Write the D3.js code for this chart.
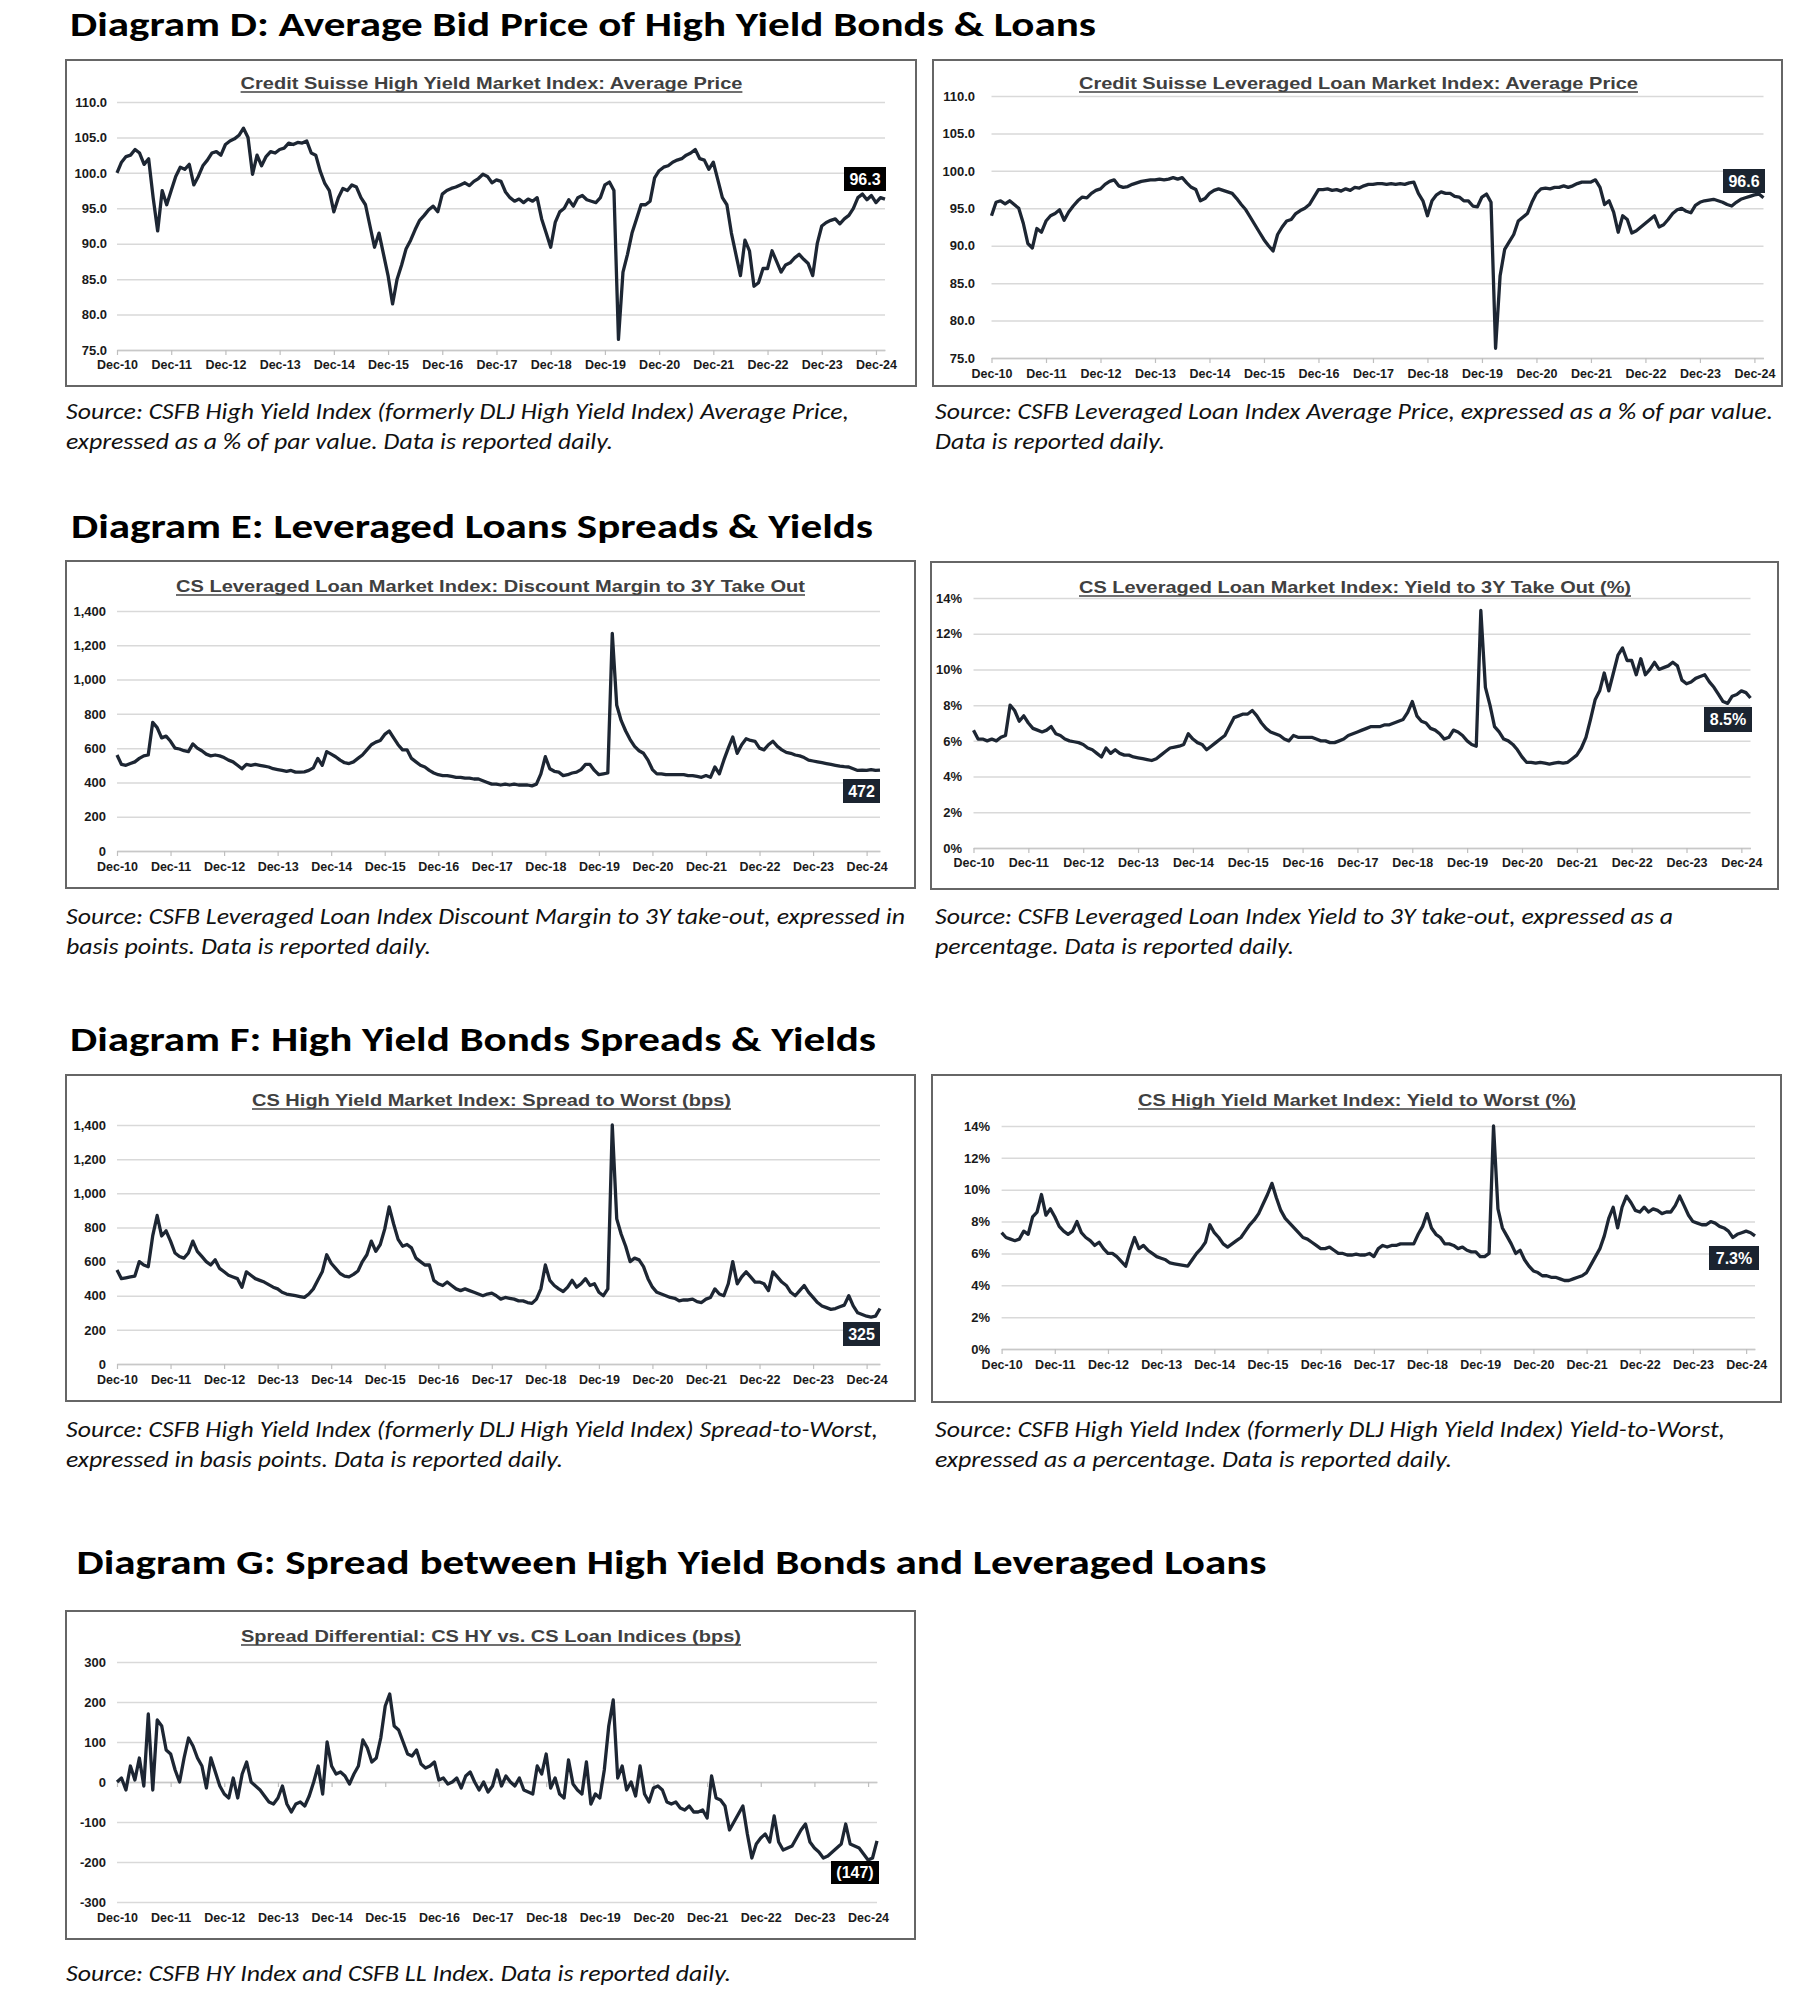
<!DOCTYPE html>
<html><head><meta charset="utf-8">
<script src="https://cdn.jsdelivr.net/npm/d3@7"></script>
<style>
html,body{margin:0;padding:0;background:#fff;}
svg{display:block;}
</style></head>
<body>
<script>
// ---------- DATA (monthly, index 0 = Dec-2010) ----------
const xTickLabels = ["Dec-10","Dec-11","Dec-12","Dec-13","Dec-14","Dec-15","Dec-16","Dec-17","Dec-18","Dec-19","Dec-20","Dec-21","Dec-22","Dec-23","Dec-24"];

const hyPrice = [100.0,
 101.5,102.3,102.5,103.3,102.8,101.2,102.0,96.5,91.8,97.5,95.5,97.5,
 99.5,100.8,100.5,101.2,98.3,99.5,101.0,101.8,102.8,103.0,102.5,104.0,
 104.5,104.8,105.3,106.3,105.0,99.8,102.5,101.0,102.3,103.0,102.8,103.3,
 103.5,104.2,104.0,104.3,104.2,104.5,102.8,102.5,100.2,98.5,97.5,94.5,
 96.5,97.8,97.5,98.3,98.0,96.5,95.5,92.5,89.5,91.5,88.5,85.5,
 81.5,85.0,87.0,89.3,90.5,92.0,93.3,94.0,94.8,95.3,94.5,97.0,
 97.5,97.8,98.0,98.3,98.6,98.2,98.8,99.2,99.8,99.5,98.6,99.0,
 98.8,97.3,96.5,96.0,96.3,95.8,96.3,96.0,96.5,93.5,91.5,89.5,
 93.0,94.5,95.0,96.2,95.3,96.5,96.8,96.2,96.0,95.8,96.5,98.3,
 98.7,97.5,76.5,86.0,88.5,91.5,93.5,95.5,95.5,96.0,99.3,100.3,
 100.8,101.0,101.5,101.8,102.0,102.5,102.8,103.3,102.0,101.8,100.5,101.5,
 99.0,96.5,95.5,91.5,88.5,85.5,90.5,89.0,84.0,84.5,86.5,86.5,
 89.0,87.5,86.0,87.0,87.3,88.0,88.5,87.8,87.2,85.5,90.0,92.5,
 93.0,93.3,93.5,92.8,93.5,94.0,95.0,96.5,97.0,96.2,96.8,95.8,
 96.5,96.3];

const llPrice = [94.0,
 95.8,96.0,95.6,96.0,95.5,95.0,93.0,90.3,89.7,92.3,91.8,93.3,
 94.0,94.3,94.8,93.4,94.5,95.3,96.0,96.5,96.4,97.0,97.4,97.6,
 98.2,98.6,98.8,98.0,97.8,97.9,98.2,98.4,98.6,98.7,98.8,98.8,
 98.9,98.8,98.9,99.1,98.9,99.1,98.4,97.8,97.5,96.0,96.3,97.0,
 97.4,97.6,97.4,97.2,97.0,96.3,95.5,94.8,93.8,92.8,91.8,90.8,
 90.0,89.3,91.5,92.5,93.3,93.5,94.3,94.7,95.0,95.5,96.5,97.5,
 97.5,97.6,97.4,97.5,97.3,97.6,97.4,97.8,97.7,98.0,98.2,98.2,
 98.3,98.3,98.2,98.3,98.2,98.3,98.2,98.4,98.5,97.0,96.0,94.0,
 96.0,96.8,97.2,97.0,97.0,96.6,96.5,96.0,96.0,95.3,95.2,96.5,
 96.9,95.8,76.3,86.0,89.5,90.5,91.5,93.3,93.8,94.3,95.8,97.0,
 97.6,97.7,97.6,97.8,97.8,98.0,97.8,98.0,98.3,98.5,98.5,98.5,
 98.8,97.8,95.5,96.0,94.5,91.8,94.0,93.5,91.7,92.0,92.5,93.0,
 93.5,94.0,92.5,92.8,93.5,94.3,94.8,95.0,94.6,94.4,95.4,95.8,
 96.0,96.1,96.2,96.0,95.8,95.5,95.3,95.8,96.2,96.4,96.6,96.8,
 96.9,96.4];

const llDiscountMargin = [560,
 505,500,510,520,540,555,560,750,720,660,670,640,
 600,595,585,580,625,600,585,565,555,560,555,545,
 530,520,500,480,505,500,505,500,495,490,480,475,
 470,465,470,460,460,462,470,485,540,500,580,565,
 550,530,515,510,520,540,560,590,620,635,645,680,
 700,660,620,590,590,540,520,500,490,470,455,445,
 440,440,435,430,430,425,425,420,420,410,400,390,
 390,385,390,385,390,385,385,385,380,390,450,550,
 480,465,460,440,445,455,460,475,505,505,470,445,
 450,455,1270,850,760,700,650,610,585,570,530,475,
 450,450,445,445,445,445,445,440,440,435,430,440,
 430,490,450,530,600,665,570,620,655,645,640,600,
 590,620,640,610,590,575,570,560,555,545,530,525,
 520,515,510,505,500,495,492,490,480,470,472,470,
 475,470,472];

const llYield = [6.6,
 6.1,6.1,6.0,6.1,6.0,6.2,6.3,8.0,7.7,7.1,7.4,7.0,
 6.7,6.6,6.5,6.6,6.8,6.4,6.3,6.1,6.0,5.95,5.9,5.8,
 5.6,5.5,5.3,5.1,5.6,5.3,5.5,5.3,5.2,5.2,5.1,5.05,
 5.0,4.95,4.9,5.0,5.2,5.4,5.6,5.65,5.7,5.8,6.4,6.1,
 5.9,5.8,5.5,5.7,5.9,6.1,6.3,6.8,7.3,7.4,7.5,7.5,
 7.7,7.4,7.0,6.7,6.5,6.4,6.3,6.1,6.0,6.3,6.2,6.2,
 6.2,6.2,6.1,6.0,6.0,5.9,5.9,6.0,6.1,6.3,6.4,6.5,
 6.6,6.7,6.8,6.8,6.8,6.9,6.9,7.0,7.1,7.2,7.6,8.2,
 7.4,7.1,7.0,6.7,6.6,6.4,6.1,6.2,6.6,6.5,6.3,6.0,
 5.8,5.7,13.3,9.0,8.0,6.8,6.5,6.1,6.0,5.8,5.5,5.1,
 4.8,4.8,4.75,4.8,4.75,4.7,4.75,4.8,4.75,4.8,5.0,5.2,
 5.6,6.2,7.2,8.3,8.8,9.8,8.8,9.8,10.8,11.2,10.5,10.5,
 9.7,10.6,9.7,10.0,10.4,10.0,10.1,10.2,10.4,10.2,9.4,9.2,
 9.3,9.5,9.6,9.7,9.3,9.0,8.6,8.2,8.1,8.5,8.6,8.8,
 8.7,8.4];

const hySpreadToWorst = [550,
 500,505,510,515,600,580,570,750,870,750,780,720,
 650,630,620,650,720,660,630,600,580,610,560,540,
 520,510,500,450,540,520,500,490,480,465,450,440,
 420,410,405,400,395,390,410,440,490,540,640,590,
 560,530,515,510,525,545,600,640,720,660,700,790,
 920,820,730,690,700,680,620,600,580,580,490,470,
 460,480,460,440,430,440,430,420,410,400,410,415,
 400,380,390,385,380,370,370,360,355,380,440,580,
 490,460,440,425,450,490,450,470,500,460,470,420,
 400,440,1400,850,760,690,600,620,610,570,500,450,
 420,410,400,390,385,370,375,375,380,365,360,380,
 390,440,410,400,470,600,470,510,540,510,480,480,
 470,430,540,510,480,460,420,400,430,460,420,390,
 360,340,330,320,325,335,345,400,340,300,290,280,
 275,280,325];

const hyYieldToWorst = [7.3,
 7.0,6.9,6.8,6.9,7.4,7.2,8.3,8.6,9.7,8.4,8.8,8.3,
 7.7,7.4,7.2,7.4,8.0,7.3,7.0,6.8,6.5,6.7,6.3,6.0,
 6.0,5.8,5.5,5.2,6.2,7.0,6.3,6.5,6.2,6.0,5.8,5.7,
 5.6,5.4,5.35,5.3,5.25,5.2,5.6,6.0,6.3,6.7,7.8,7.3,
 7.0,6.6,6.4,6.6,6.8,7.0,7.4,7.8,8.1,8.5,9.1,9.7,
 10.4,9.5,8.7,8.2,7.9,7.6,7.3,7.0,6.9,6.7,6.5,6.3,
 6.3,6.4,6.2,6.0,6.0,5.9,5.9,5.95,5.9,5.9,6.0,5.8,
 6.3,6.5,6.4,6.5,6.5,6.6,6.6,6.6,6.6,7.2,7.7,8.5,
 7.6,7.2,7.0,6.6,6.6,6.5,6.3,6.4,6.2,6.1,6.1,5.8,
 5.8,6.0,14.0,8.8,7.6,7.1,6.6,6.0,6.2,5.6,5.2,4.9,
 4.8,4.6,4.6,4.5,4.5,4.4,4.3,4.3,4.4,4.5,4.6,4.8,
 5.3,5.8,6.3,7.1,8.2,8.9,7.6,8.9,9.6,9.2,8.7,8.6,
 8.9,8.6,8.8,8.7,8.5,8.6,8.6,9.0,9.6,9.0,8.4,8.0,
 7.9,7.8,7.8,8.0,7.9,7.7,7.6,7.4,7.0,7.2,7.3,7.4,
 7.3,7.1];

const spreadDifferential = [0,
 10,-20,40,5,60,-10,170,-20,155,140,80,70,
 30,0,60,110,90,60,40,-15,60,25,-10,-30,
 -40,10,-40,20,50,0,-10,-20,-35,-50,-55,-40,
 -10,-55,-75,-55,-50,-60,-35,0,40,-30,100,40,
 20,25,15,-5,20,40,105,85,50,60,110,190,
 220,140,130,100,70,65,80,45,35,40,50,5,
 10,-5,0,10,-15,15,25,0,-20,0,-25,-10,
 30,-10,15,0,-10,10,-20,-25,-30,40,20,70,
 -15,10,-30,-40,55,-5,-20,-30,50,-55,-30,-40,
 30,140,205,10,40,-20,0,-35,40,-30,-50,-15,
 -10,-20,-50,-55,-50,-65,-70,-60,-75,-75,-70,-90,
 15,-40,-45,-60,-120,-100,-80,-60,-130,-190,-155,-140,
 -130,-150,-85,-150,-170,-165,-160,-140,-120,-105,-150,-165,
 -175,-190,-185,-175,-165,-155,-105,-155,-160,-165,-180,-195,
 -190,-147];

const priceTicks = [75,80,85,90,95,100,105,110];
const bpsTicks = [0,200,400,600,800,1000,1200,1400];
const pctTicks = [0,2,4,6,8,10,12,14];
const diffTicks = [-300,-200,-100,0,100,200,300];

const endLabels = ["96.3","96.6","472","8.5%","325","7.3%","(147)"];

// ---------- LAYOUT ----------
const W = 1803, H = 1999;
const svg = d3.select("body").append("svg").attr("width", W).attr("height", H);
svg.append("rect").attr("width", W).attr("height", H).attr("fill", "#fff");

const headFont = "Carlito, Calibri, Lato, 'Open Sans', sans-serif";
const chartFont = "'Liberation Sans', Arial, sans-serif";
const lineColor = "#1d2633";

const headings = [
  {t:"Diagram D: Average Bid Price of High Yield Bonds & Loans", x:70, y:36, w:1026},
  {t:"Diagram E: Leveraged Loans Spreads & Yields", x:71, y:538, w:802},
  {t:"Diagram F: High Yield Bonds Spreads & Yields", x:70, y:1051, w:806},
  {t:"Diagram G: Spread between High Yield Bonds and Leveraged Loans", x:76.5, y:1574, w:1190}
];
headings.forEach(h => {
  svg.append("text").attr("x", h.x).attr("y", h.y).text(h.t)
    .attr("font-family", headFont).attr("font-weight", "bold").attr("font-size", 35)
    .attr("fill", "#000").attr("textLength", h.w).attr("lengthAdjust", "spacingAndGlyphs");
});

const sources = [
  {x:66, y:419, lines:["Source: CSFB High Yield Index (formerly DLJ High Yield Index) Average Price,","expressed as a % of par value. Data is reported daily."], w:[783,547]},
  {x:935, y:419, lines:["Source: CSFB Leveraged Loan Index Average Price, expressed as a % of par value.","Data is reported daily."], w:[838,230]},
  {x:66, y:924, lines:["Source: CSFB Leveraged Loan Index Discount Margin to 3Y take-out, expressed in","basis points. Data is reported daily."], w:[839,365]},
  {x:935, y:924, lines:["Source: CSFB Leveraged Loan Index Yield to 3Y take-out, expressed as a","percentage. Data is reported daily."], w:[738,359]},
  {x:66, y:1437, lines:["Source: CSFB High Yield Index (formerly DLJ High Yield Index) Spread-to-Worst,","expressed in basis points. Data is reported daily."], w:[812,497]},
  {x:935, y:1437, lines:["Source: CSFB High Yield Index (formerly DLJ High Yield Index) Yield-to-Worst,","expressed as a percentage. Data is reported daily."], w:[790,517]},
  {x:66, y:1981, lines:["Source: CSFB HY Index and CSFB LL Index. Data is reported daily."], w:[665]}
];
sources.forEach(s => {
  s.lines.forEach((ln, i) => {
    svg.append("text").attr("x", s.x).attr("y", s.y + i * 30).text(ln)
      .attr("font-family", headFont).attr("font-style", "italic").attr("font-size", 22)
      .attr("fill", "#111").attr("textLength", s.w[i]).attr("lengthAdjust", "spacingAndGlyphs");
  });
});

const fmt1 = d3.format(".1f"), fmtC = d3.format(","), fmtP = d => d + "%", fmtS = d => String(d);

const panels = [
  {box:[66,60,916,386], title:"Credit Suisse High Yield Market Index: Average Price", tx:[240.6,742.4], ty:89,
   data:hyPrice, n:170, xr:[117,885], yd:[75,110], yr:[350,102], yt:priceTicks, fmt:fmt1, yPad:10, xPad:5.3,
   lb:[844,167,42,24], lfill:"#000"},
  {box:[933,60,1782,386], title:"Credit Suisse Leveraged Loan Market Index: Average Price", tx:[1079,1638], ty:89,
   data:llPrice, n:170, xr:[991.5,1763.5], yd:[75,110], yr:[358,96], yt:priceTicks, fmt:fmt1, yPad:16.5, xPad:6.3,
   lb:[1723,169,42,24], lfill:"#1b2430"},
  {box:[66,561,915,888], title:"CS Leveraged Loan Market Index: Discount Margin to 3Y Take Out", tx:[176,805], ty:592,
   data:llDiscountMargin, n:171, xr:[117,880], yd:[0,1400], yr:[851,611], yt:bpsTicks, fmt:fmtC, yPad:11, xPad:6.3,
   lb:[843,779,37,24], lfill:"#1b2430"},
  {box:[931,562,1778,889], title:"CS Leveraged Loan Market Index: Yield to 3Y Take Out (%)", tx:[1079,1631], ty:593,
   data:llYield, n:170, xr:[973.5,1750.5], yd:[0,14], yr:[848,598], yt:pctTicks, fmt:fmtP, yPad:11.5, xPad:5.3,
   lb:[1704,707,48,25], lfill:"#1b2430"},
  {box:[66,1075,915,1401], title:"CS High Yield Market Index: Spread to Worst (bps)", tx:[252,731], ty:1106,
   data:hySpreadToWorst, n:171, xr:[117,880], yd:[0,1400], yr:[1364,1125], yt:bpsTicks, fmt:fmtC, yPad:11, xPad:6.3,
   lb:[843,1322,37,24], lfill:"#1b2430"},
  {box:[932,1075,1781,1402], title:"CS High Yield Market Index: Yield to Worst (%)", tx:[1138,1576], ty:1106,
   data:hyYieldToWorst, n:170, xr:[1001.6,1755], yd:[0,14], yr:[1349,1126], yt:pctTicks, fmt:fmtP, yPad:11.6, xPad:6.3,
   lb:[1709,1246,50,24], lfill:"#1b2430"},
  {box:[66,1611,915,1939], title:"Spread Differential: CS HY vs. CS Loan Indices (bps)", tx:[241,741], ty:1642,
   data:spreadDifferential, n:170, xr:[117,877], yd:[-300,300], yr:[1902,1662], yt:diffTicks, fmt:fmtS, yPad:11, xPad:11.3,
   axisAtZero:true, lb:[831,1861,48,23], lfill:"#000"}
];

function styleTickText(sel, size) {
  sel.attr("font-family", chartFont).attr("font-size", size).attr("font-weight", "bold").attr("fill", "#1a1a1a");
}

panels.forEach((p, k) => {
  const g = svg.append("g");
  g.append("rect").attr("x", p.box[0]).attr("y", p.box[1])
    .attr("width", p.box[2] - p.box[0]).attr("height", p.box[3] - p.box[1])
    .attr("fill", "#fff").attr("stroke", "#666").attr("stroke-width", 2);

  // chart title (underlined)
  g.append("text").attr("x", (p.tx[0] + p.tx[1]) / 2).attr("y", p.ty).attr("text-anchor", "middle")
    .text(p.title).attr("font-family", chartFont).attr("font-weight", "bold").attr("font-size", 17)
    .attr("fill", "#404040").attr("textLength", p.tx[1] - p.tx[0]).attr("lengthAdjust", "spacingAndGlyphs");
  g.append("line").attr("x1", p.tx[0]).attr("x2", p.tx[1]).attr("y1", p.ty + 3).attr("y2", p.ty + 3)
    .attr("stroke", "#404040").attr("stroke-width", 1.6);

  const x = d3.scaleLinear().domain([0, p.n]).range(p.xr);
  const y = d3.scaleLinear().domain(p.yd).range(p.yr);

  // gridlines + y labels
  const ya = d3.axisLeft(y).tickValues(p.yt).tickFormat(p.fmt)
    .tickSizeInner(-(p.xr[1] - p.xr[0])).tickSizeOuter(0).tickPadding(p.yPad);
  const yg = g.append("g").attr("transform", `translate(${p.xr[0]},0)`).call(ya);
  yg.select(".domain").remove();
  yg.selectAll(".tick line").attr("stroke", "#d9d9d9").attr("stroke-width", 1.5);
  styleTickText(yg.selectAll(".tick text"), 13);

  const tickVals = d3.range(0, 169, 12);
  if (p.axisAtZero) {
    const xa0 = d3.axisBottom(x).tickValues(tickVals).tickFormat("").tickSizeInner(5).tickSizeOuter(0);
    const xg0 = g.append("g").attr("transform", `translate(0,${y(0)})`).call(xa0);
    xg0.select(".domain").attr("stroke", "#c8c8c8").attr("stroke-width", 1.5);
    xg0.selectAll(".tick line").attr("stroke", "#bfbfbf").attr("stroke-width", 1.2);
    const xa1 = d3.axisBottom(x).tickValues(tickVals).tickFormat((d, i) => xTickLabels[i])
      .tickSize(0).tickPadding(p.xPad);
    const xg1 = g.append("g").attr("transform", `translate(0,${p.yr[0]})`).call(xa1);
    xg1.select(".domain").remove();
    styleTickText(xg1.selectAll(".tick text"), 12.5);
  } else {
    const xa = d3.axisBottom(x).tickValues(tickVals).tickFormat((d, i) => xTickLabels[i])
      .tickSizeInner(5).tickSizeOuter(0).tickPadding(p.xPad);
    const xg = g.append("g").attr("transform", `translate(0,${p.yr[0]})`).call(xa);
    xg.select(".domain").attr("stroke", "#c8c8c8").attr("stroke-width", 1.5);
    xg.selectAll(".tick line").attr("stroke", "#bfbfbf").attr("stroke-width", 1.2);
    styleTickText(xg.selectAll(".tick text"), 12.5);
  }

  // series line
  const line = d3.line().x((d, i) => x(i)).y(d => y(d)).curve(d3.curveLinear);
  g.append("path").datum(p.data).attr("d", line).attr("fill", "none")
    .attr("stroke", lineColor).attr("stroke-width", 3.3).attr("stroke-linejoin", "round");

  // end value label
  g.append("rect").attr("x", p.lb[0]).attr("y", p.lb[1]).attr("width", p.lb[2]).attr("height", p.lb[3])
    .attr("fill", p.lfill);
  g.append("text").attr("x", p.lb[0] + p.lb[2] / 2).attr("y", p.lb[1] + p.lb[3] / 2 + 5.8)
    .attr("text-anchor", "middle").text(endLabels[k])
    .attr("font-family", chartFont).attr("font-weight", "bold").attr("font-size", 16).attr("fill", "#fff");
});
</script>
</body></html>
